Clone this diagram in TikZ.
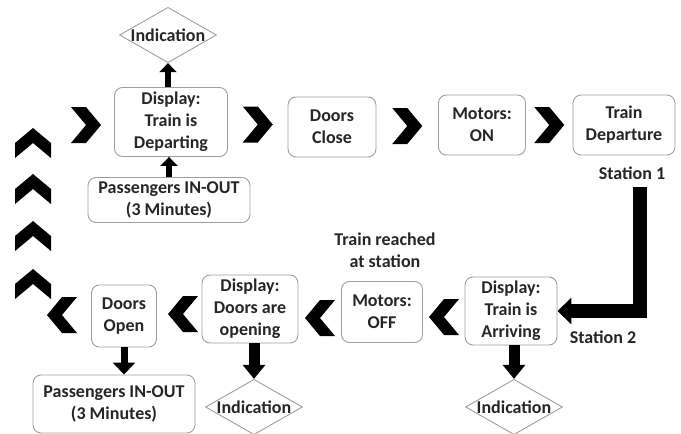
\documentclass[tikz,border=0pt]{standalone}
\usepackage{fontspec}
\setmainfont{Carlito}
\usepackage{tikz}
\usetikzlibrary{arrows.meta, shapes.geometric, calc}
\definecolor{ink}{HTML}{262626}
\definecolor{frame}{HTML}{9E9E9E}

\begin{document}
\begin{tikzpicture}[
    x=1pt, y=-1pt,
    every node/.style={font=\fontsize{18}{22}\selectfont\bfseries, text=ink},
    stage/.style={draw=frame, line width=0.9pt, rounded corners=8pt,
                  align=center, inner sep=2pt},
    signal/.style={draw=frame, line width=0.9pt, diamond, aspect=1.75,
                   inner sep=0pt},
    tag/.style={align=center, inner sep=0pt},
    push/.style={line width=6pt, draw=black,
                 -{Triangle[width=17pt, length=9pt]}},
    bigpush/.style={line width=11pt, draw=black,
                    -{Triangle[width=22pt, length=14pt]}},
    chev/.pic={\fill[black] (-15,-18) -- (0,-18) -- (15,0) -- (0,18)
                 -- (-15,18) -- (0,0) -- cycle;}
  ]
  \useasboundingbox (0,0) rectangle (681,434);

  % top row: leaving station 1
  \node[signal] (ind1) at (168,35) {Indication};
  \node[stage, minimum width=113pt, minimum height=69pt] (depart) at (171,122)
    {Display:\\Train is\\Departing};
  \node[stage, minimum width=162pt, minimum height=45pt] (psg1) at (169,200)
    {Passengers IN-OUT\\(3 Minutes)};
  \node[stage, minimum width=88pt, minimum height=60pt] (close) at (332,127)
    {Doors\\Close};
  \node[stage, minimum width=87pt, minimum height=60pt] (mon) at (482,125)
    {Motors:\\ON};
  \node[stage, minimum width=102pt, minimum height=60pt] (leave) at (624,125)
    {Train\\Departure};
  \node[tag] (st1) at (632,173) {Station 1};

  % bottom row: arriving at station 2
  \node[stage, minimum width=92pt, minimum height=68pt] (arrive) at (511,311)
    {Display:\\Train is\\Arriving};
  \node[tag] (st2) at (603,337) {Station 2};
  \node[signal] (ind3) at (514,407) {Indication};
  \node[stage, minimum width=81pt, minimum height=61pt] (moff) at (382,312)
    {Motors:\\OFF};
  \node[tag] (reach) at (385,250) {Train reached\\at station};
  \node[stage, minimum width=96pt, minimum height=68pt] (dshow) at (250,309)
    {Display:\\Doors are\\opening};
  \node[signal] (ind2) at (254,407) {Indication};
  \node[stage, minimum width=65pt, minimum height=62pt] (dopen) at (124,316)
    {Doors\\Open};
  \node[stage, minimum width=162pt, minimum height=58pt] (psg2) at (114,404)
    {Passengers IN-OUT\\(3 Minutes)};

  % flow chevrons
  \pic at (86,125) {chev};
  \pic at ($(depart.east)!0.5!(close.west)$) {chev};
  \pic at ($(close.east)!0.5!(mon.west)$) {chev};
  \pic at ($(mon.east)!0.5!(leave.west)$) {chev};
  \pic[rotate=180] at (444,317) {chev};
  \pic[rotate=180] at (320,318) {chev};
  \pic[rotate=180] at (183,314) {chev};
  \pic[rotate=180] at (62,315) {chev};
  \foreach \y in {143,189,236,284}
    \pic[rotate=90] at (33,\y) {chev};

  % thick arrows, kept vertical
  \draw[push] (ind1.south |- depart.north) -- (ind1.south);
  \draw[push] (psg1.north) -- (psg1.north |- depart.south);
  \draw[bigpush] (ind3.north |- arrive.south) -- (ind3.north);
  \draw[bigpush] (ind2.north |- dshow.south) -- (ind2.north);
  \draw[push, line width=7pt, -{Triangle[width=22pt, length=12pt]}]
    (dopen.south) -- (dopen.south |- psg2.north);

  % station 1 to station 2
  \coordinate (drop) at (640,187);
  \draw[line width=14pt, line join=miter, -{Triangle[width=26pt, length=14pt]}]
    (drop) |- (arrive.east);
\end{tikzpicture}
\end{document}
